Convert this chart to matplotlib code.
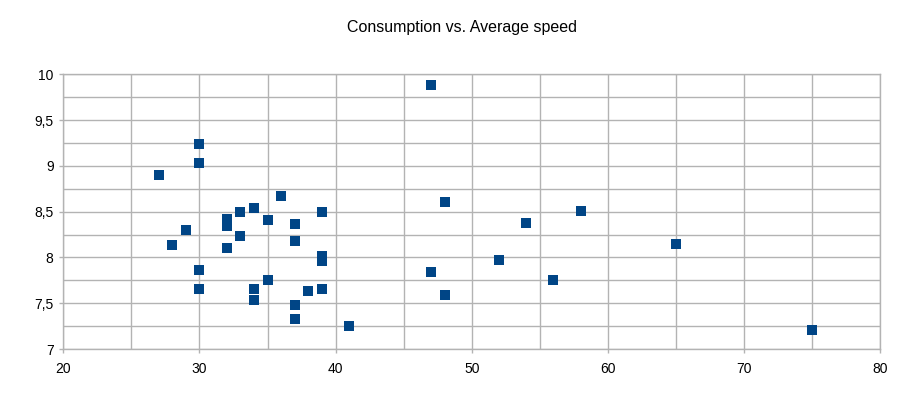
import matplotlib
matplotlib.use("Agg")
import matplotlib.pyplot as plt
from matplotlib.ticker import MultipleLocator, FixedLocator

plt.rcParams['font.family'] = ['Liberation Sans', 'DejaVu Sans']

speed = [27, 28, 29, 30, 30, 30, 30, 32, 32, 32, 33, 33, 34, 34, 34, 35, 35, 36,
         37, 37, 37, 37, 38, 39, 39, 39, 39, 41, 47, 47, 48, 48, 52, 54, 56, 58, 65, 75]
consumption = [8.90, 8.14, 8.30, 9.24, 9.03, 7.86, 7.65, 8.42, 8.34, 8.10, 8.50, 8.23,
               8.54, 7.66, 7.54, 8.41, 7.75, 8.67, 8.36, 8.18, 7.48, 7.33, 7.63, 8.50,
               8.02, 7.96, 7.66, 7.25, 9.88, 7.84, 8.61, 7.59, 7.97, 8.38, 7.75, 8.51,
               8.15, 7.21]

x_ticks = [20, 30, 40, 50, 60, 70, 80]
y_ticks = [7, 7.5, 8, 8.5, 9, 9.5, 10]
y_tick_labels = ["7", "7,5", "8", "8,5", "9", "9,5", "10"]
title = "Consumption vs. Average speed"

fig = plt.figure(figsize=(9.24, 3.98), dpi=100)
ax = fig.add_axes([0.0685, 0.1231, 0.8842, 0.6902])

grid_c = '#b3b3b3'
ax.set_xlim(20, 80)
ax.set_ylim(7, 10)
ax.xaxis.set_major_locator(FixedLocator(x_ticks))
ax.yaxis.set_major_locator(FixedLocator(y_ticks))
ax.set_yticklabels(y_tick_labels)
ax.xaxis.set_minor_locator(MultipleLocator(5))
ax.yaxis.set_minor_locator(MultipleLocator(0.25))
ax.grid(True, which='both', color=grid_c, linewidth=1.0)
ax.set_axisbelow(True)
for s in ax.spines.values():
    s.set_color(grid_c)
    s.set_linewidth(1.0)
ax.tick_params(which='major', length=3, width=1, color=grid_c, labelsize=10,
               labelcolor='black', pad=4)
ax.tick_params(axis='x', which='major', pad=6)
ax.tick_params(which='minor', length=0)

ax.scatter(speed, consumption, marker='s', s=62, color='#004586', linewidths=0,
           zorder=3, clip_on=False)

fig.text(0.5, 0.932, title, ha='center', va='center', fontsize=11.5)

fig.savefig('out.png', dpi=100)
